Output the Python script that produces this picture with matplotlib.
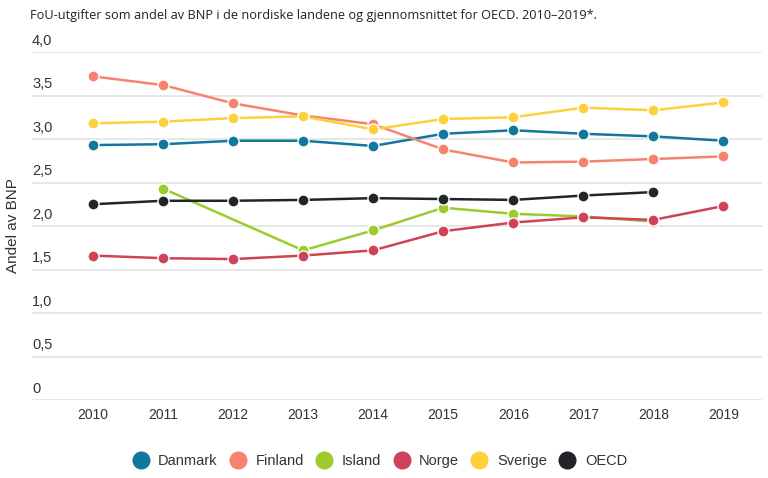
import matplotlib
matplotlib.use("Agg")
import matplotlib.pyplot as plt
import matplotlib.transforms as mtransforms
import numpy as np

years = [2010, 2011, 2012, 2013, 2014, 2015, 2016, 2017, 2018, 2019]
danmark = [2.93, 2.94, 2.98, 2.98, 2.92, 3.06, 3.10, 3.06, 3.03, 2.98]
finland = [3.72, 3.62, 3.41, 3.27, 3.17, 2.88, 2.73, 2.74, 2.77, 2.80]
island = [None, 2.43, None, 1.72, 1.95, 2.21, 2.14, 2.11, 2.05, None]
norge = [1.66, 1.63, 1.62, 1.66, 1.72, 1.94, 2.04, 2.10, 2.07, 2.23]
sverige = [3.18, 3.20, 3.24, 3.26, 3.11, 3.23, 3.25, 3.36, 3.33, 3.42]
oecd = [2.25, 2.29, 2.29, 2.30, 2.32, 2.31, 2.30, 2.35, 2.39, None]

series_names = ["Danmark", "Finland", "Island", "Norge", "Sverige", "OECD"]
series_values = [danmark, finland, island, norge, sverige, oecd]
series_colors = ["#11789c", "#f7836f", "#9ccb2e", "#cf4258", "#fdd03c", "#222428"]

y_ticks = [0, 0.5, 1.0, 1.5, 2.0, 2.5, 3.0, 3.5, 4.0]
y_tick_labels = ["0", "0,5", "1,0", "1,5", "2,0", "2,5", "3,0", "3,5", "4,0"]

title = "FoU-utgifter som andel av BNP i de nordiske landene og gjennomsnittet for OECD. 2010\u20132019*."
y_label = "Andel av BNP"

fig = plt.figure(figsize=(7.68, 4.78), dpi=100)
ax = fig.add_axes([32 / 768, 1 - 400 / 478, (762 - 32) / 768, (400 - 52) / 478])

# draw order: Island under Norge so Norge markers sit on top
order = [0, 1, 4, 2, 3, 5]
for i in order:
    vals = np.array([np.nan if v is None else v for v in series_values[i]], dtype=float)
    x = np.array(years, dtype=float)
    mask = ~np.isnan(vals)
    ax.plot(x[mask], vals[mask], color=series_colors[i], lw=1.8,
            marker="o", ms=8, mfc=series_colors[i], mec="white", mew=1.0,
            zorder=3 + i * 0.1, solid_capstyle="round")

ax.set_xlim(2009.13, 2019.55)
ax.set_ylim(0, 4.0)
ax.set_yticks(y_ticks)
ax.set_yticklabels([])
ax.tick_params(axis="y", length=0)
ax.set_xticks(years)
ax.set_xticklabels([str(y) for y in years], fontsize=10, color="#333333",
                   family="Liberation Sans")
ax.tick_params(axis="x", length=0, pad=6)
ax.grid(axis="y", color="#e3e3e3", lw=1.2)
ax.set_axisbelow(True)
for s in ax.spines.values():
    s.set_visible(False)

trans = mtransforms.blended_transform_factory(ax.transAxes, ax.transData)
offset = mtransforms.ScaledTranslation(0, 3 / 72, fig.dpi_scale_trans)
for v, lab in zip(y_ticks, y_tick_labels):
    ax.text(0.0, v, lab, transform=trans + offset, ha="left", va="bottom",
            fontsize=10.5, color="#333333", family="Liberation Sans")

fig.text(13 / 768, 1 - 226 / 478, y_label, rotation=90, ha="center", va="center",
         fontsize=11, color="#333333", family="Liberation Sans")

fig.text(30 / 768, 1 - 15 / 478, title, ha="left", va="center", fontsize=9.2,
         color="#222222", family="Open Sans")

leg_handles = [plt.Line2D([], [], ls="none", marker="o", ms=12, mfc=c, mec=c)
               for c in series_colors]
fig.legend(leg_handles, series_names, loc="center", bbox_to_anchor=(0.495, 1 - 461 / 478),
           ncol=6, frameon=False, handletextpad=0.7, columnspacing=0.9,
           prop={"family": "Liberation Sans", "size": 10.5}, labelcolor="#333333",
           handlelength=1.0)

fig.savefig("out.png", dpi=100)
